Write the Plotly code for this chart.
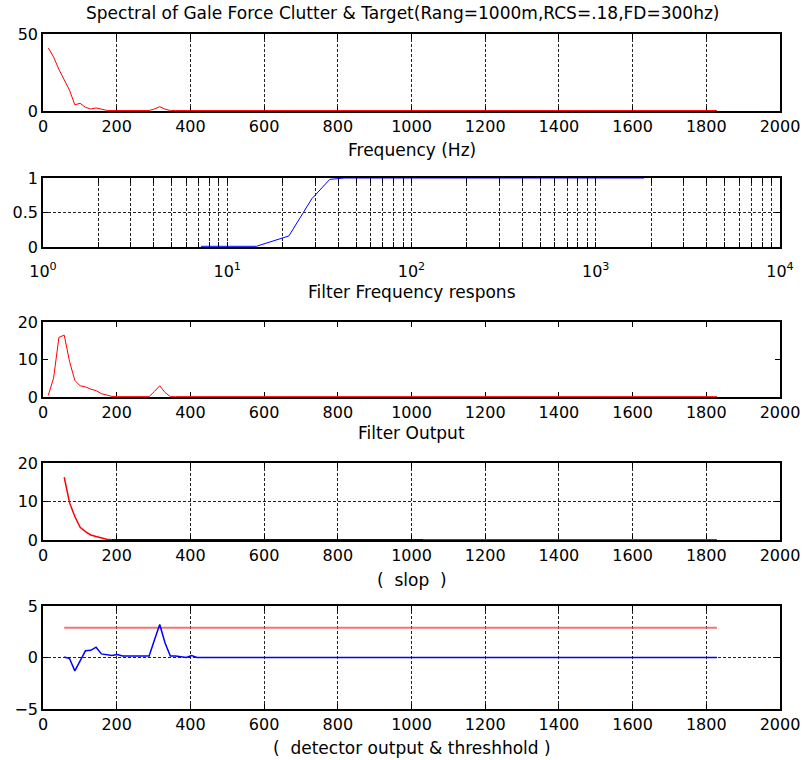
import plotly.graph_objects as go

# ---------------- data ----------------
spec_freq = [14.4, 28.8, 43.2, 57.6, 72.0, 86.4, 100.8, 115.2, 129.6, 144.0,
             158.4, 172.8, 187.2, 201.6, 216.0, 230.4, 244.8, 259.2, 273.6, 288.0,
             302.4, 316.8, 331.2, 345.6, 360.0, 374.4, 388.8, 403.2, 417.6, 1828.8]

spectrum = [41, 35, 27, 20, 13.5, 4, 5, 2.4, 1.3, 2,
            1.1, 0.4, 0.3, 0.3, 0.3, 0.3, 0.3, 0.3, 0.3, 0.3,
            1.3, 2.8, 1.2, 0.3, 0.3, 0.3, 0.3, 0.3, 0.3, 0.3]

filt_freq = [7.2, 14.4, 21.6, 28.8, 36.0, 43.2, 1828.8]
filt_resp = [0.01, 0.01, 0.16, 0.7, 0.98, 1.0, 1.0]

filter_output = [0.45, 5.1, 15.9, 16.5, 9.5, 4.4, 3.0, 2.7, 2.1, 1.7,
                 0.9, 0.5, 0.15, 0.1, 0.1, 0.1, 0.1, 0.1, 0.1, 0.1,
                 1.5, 3.0, 1.2, 0.1, 0.1, 0.1, 0.1, 0.1, 0.1, 0.1]

slop_freq = spec_freq[3:]
slop = [16.3, 9.7, 6.1, 3.3, 2.2, 1.3, 0.9, 0.5, 0.2, 0.05,
        0.05, 0.05, 0.05, 0.05, 0.05, 0.05, 0.05, 0.05, 0.05, 0.05,
        0.05, 0.05, 0.05, 0.05, 0.05, 0.05, 0.05]
slop_black_freq = [187.2, 1031.0]
slop_black = [0.0, 0.0]

det_freq = spec_freq[3:]
detector = [0.05, -0.1, -1.3, -0.3, 0.65, 0.7, 1.0, 0.35, 0.3, 0.2,
            0.3, 0.15, 0.15, 0.15, 0.15, 0.15, 0.15, 1.7, 3.2, 1.4,
            0.15, 0.15, 0.1, 0.0, 0.2, 0.0, 0.0]
thr_freq = [57.6, 1828.8]
threshold = [2.9, 2.9]

log_tickvals = [m * 10 ** d for d in range(4) for m in range(1, 10)] + [10000]
log_ticktext = [("10<sup>%d</sup>" % d if m == 1 else "") for d in range(4) for m in range(1, 10)] + ["10<sup>4</sup>"]

title_main = "Spectral of Gale Force Clutter & Target(Rang=1000m,RCS=.18,FD=300hz)"
labels = ["Frequency (Hz)", "Filter Frequency respons", "Filter Output",
          "(  slop  )", "(  detector output & threshhold )"]

# ---------------- layout geometry ----------------
W, H = 803, 760
x0, x1 = 43, 780
boxes = [(34, 111), (178, 247), (322, 397), (463, 540), (606, 709)]
label_y = [150, 292, 433, 580, 748]


def ydom(t, b):
    return [1 - b / H, 1 - t / H]


FONT = "DejaVu Sans"
fig = go.Figure()

RED = "#ff0000"
BLUE = "#0000ff"

fig.add_trace(go.Scatter(x=spec_freq, y=spectrum, mode="lines",
                         line=dict(color=RED, width=1), xaxis="x", yaxis="y"))
fig.add_trace(go.Scatter(x=filt_freq, y=filt_resp, mode="lines",
                         line=dict(color=BLUE, width=1), xaxis="x2", yaxis="y2"))
fig.add_trace(go.Scatter(x=spec_freq, y=filter_output, mode="lines",
                         line=dict(color=RED, width=1), xaxis="x3", yaxis="y3"))
fig.add_trace(go.Scatter(x=slop_freq, y=slop, mode="lines",
                         line=dict(color=RED, width=1.5), xaxis="x4", yaxis="y4"))
fig.add_trace(go.Scatter(x=slop_black_freq, y=slop_black, mode="lines",
                         line=dict(color="black", width=1.5), xaxis="x4", yaxis="y4"))
fig.add_trace(go.Scatter(x=thr_freq, y=threshold, mode="lines",
                         line=dict(color="rgba(240,70,70,0.75)", width=2), xaxis="x5", yaxis="y5"))
fig.add_trace(go.Scatter(x=det_freq, y=detector, mode="lines",
                         line=dict(color=BLUE, width=1.5), xaxis="x5", yaxis="y5"))

common = dict(showline=True, linecolor="black", linewidth=1.5, mirror="ticks",
              ticks="inside", ticklen=5, tickcolor="black", tickwidth=1,
              tickfont=dict(family=FONT, size=16, color="black"),
              zeroline=False, gridcolor="#222222", griddash="3px,2px", gridwidth=1,
              automargin=False, layer="below traces")

layout = dict(width=W, height=H, margin=dict(l=0, r=0, t=0, b=0, autoexpand=False),
              paper_bgcolor="white", plot_bgcolor="white", showlegend=False)

yspecs = [
    dict(range=[0, 50], tickvals=[0, 50], showgrid=True),
    dict(range=[0, 1], tickvals=[0, 0.5, 1], ticktext=["0", "0.5", "1"], showgrid=True),
    dict(range=[0, 20], tickvals=[0, 10, 20], showgrid=False),
    dict(range=[0, 20], tickvals=[0, 10, 20], showgrid=True),
    dict(range=[-5, 5], tickvals=[-5, 0, 5], showgrid=True),
]
for i in range(5):
    sfx = "" if i == 0 else str(i + 1)
    t, b = boxes[i]
    xa = dict(common, domain=[x0 / W, x1 / W], anchor="y" + sfx)
    if i == 1:
        xa.update(type="log", range=[0, 4], tickvals=log_tickvals, ticktext=log_ticktext,
                  showgrid=True, ticklabelstandoff=9)
    else:
        xa.update(range=[0, 2000], tickvals=list(range(0, 2001, 200)),
                  showgrid=(i != 2))
    ya = dict(common, domain=ydom(t, b), anchor="x" + sfx)
    ya.update(yspecs[i])
    layout["xaxis" + sfx] = xa
    layout["yaxis" + sfx] = ya

ann = [dict(text=title_main, x=402 / W, y=1 - 13 / H, xref="paper", yref="paper",
            showarrow=False, xanchor="center", yanchor="middle",
            font=dict(family=FONT, size=17, color="black"))]
for txt, py in zip(labels, label_y):
    ann.append(dict(text=txt, x=(x0 + x1) / 2 / W, y=1 - py / H, xref="paper", yref="paper",
                    showarrow=False, xanchor="center", yanchor="middle",
                    font=dict(family=FONT, size=17, color="black")))
layout["annotations"] = ann

fig.update_layout(**layout)
fig.write_html("out.html", config={"displayModeBar": False},
               post_script="document.body.style.margin='0';document.body.style.overflow='hidden';")
